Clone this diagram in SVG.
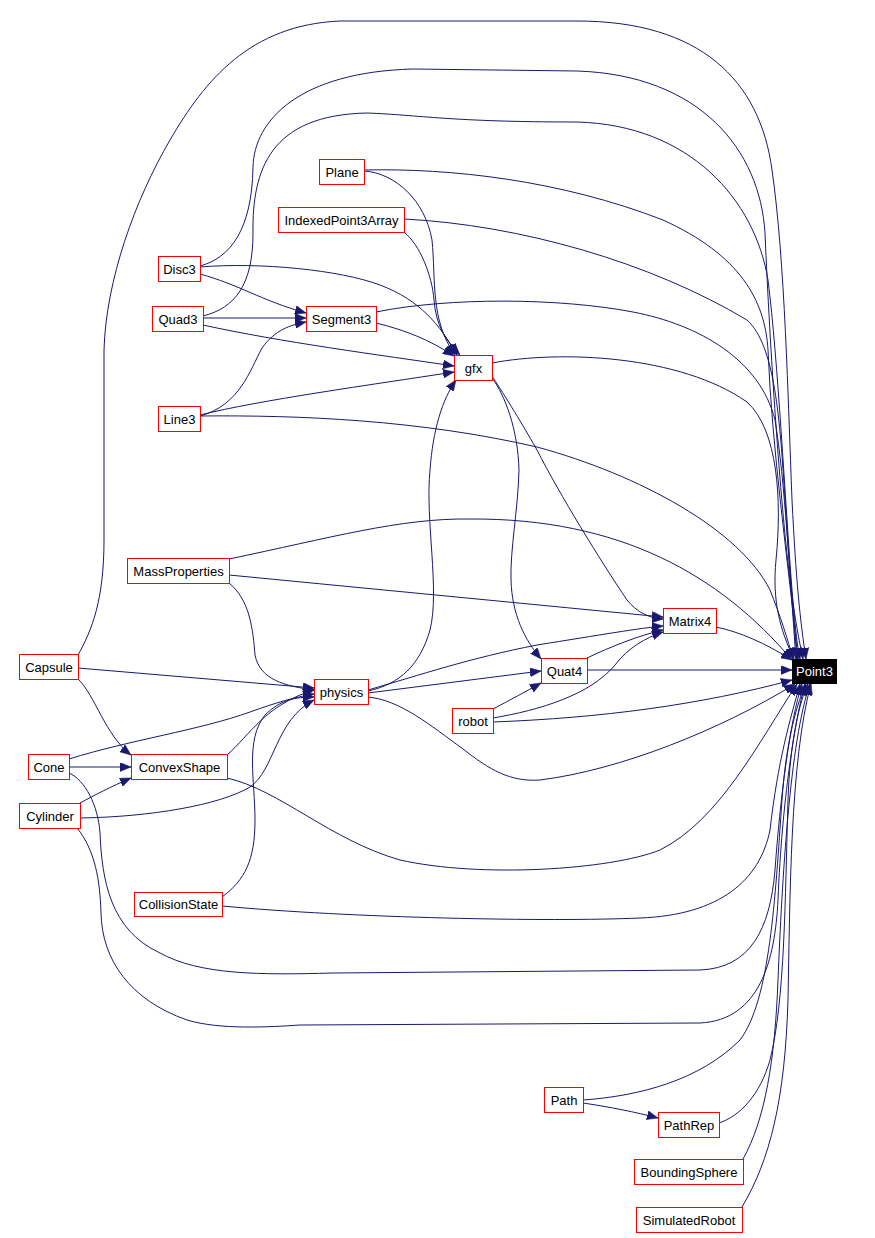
<svg xmlns="http://www.w3.org/2000/svg" width="875" height="1238" viewBox="0 0 875 1238">
<style>
.e{fill:none;stroke:#191970;stroke-width:1;marker-end:url(#ah)}
.n rect{fill:#ffffff;stroke:#ff0000;stroke-width:1}
.n text{font-family:"Liberation Sans",Arial,sans-serif;font-size:13px;fill:#000000;text-anchor:middle}
#n_Point3 rect{fill:#000000;stroke:#000000}
#n_Point3 text{fill:#ffffff}
</style>
<defs>
<marker id="ah" viewBox="0 0 11 9" refX="11" refY="4.5" markerUnits="userSpaceOnUse" markerWidth="11" markerHeight="9" orient="auto">
<path d="M0,0 L11,4.5 L0,9 z" fill="#191970" stroke="#191970" stroke-width="0.5"/>
</marker>
</defs>
<rect width="875" height="1238" fill="#ffffff"/>
<g id="edges">
<path class="e" d="M78,655 C92,630 104,600 104,540 L104,350 C106,280 135,200 170,140 C205,80 250,25 340,21 L577,21 C700,21 760,80 772,170 C785,260 788,400 792,500 C796,580 800,620 806,659"/>
<path class="e" d="M200,266 C230,258 252,230 253,167 C254,120 300,72 413,69 L577,71 C700,75 760,150 765,233 C770,350 780,500 790,580 C795,620 799,640 803,659"/>
<path class="e" d="M203,316 C235,308 253,285 253,233 C252,170 270,115 367,113 C420,115 450,122 577,122 C690,125 755,200 768,280 C778,360 785,500 792,590 C795,625 797,645 800,659"/>
<path class="e" d="M364,170 C450,168 560,180 663,220 C740,255 765,300 768,350 C772,450 788,560 798,659"/>
<path class="e" d="M404,219 C520,225 650,262 747,320 C775,345 780,420 785,500 C790,580 794,620 797,659"/>
<path class="e" d="M376,312 C450,297 560,298 633,312 C700,325 760,360 775,420 C785,480 790,580 796,659"/>
<path class="e" d="M492,363 C560,350 680,355 747,402 C778,430 782,500 776,560 C772,600 780,630 794,659"/>
<path class="e" d="M200,416 C300,415 420,420 537,447 C640,475 740,530 770,590 C780,615 788,640 793,659"/>
<path class="e" d="M229,559 C330,538 400,518 470,519 C620,518 720,575 792,660"/>
<path class="e" d="M716,627 C740,632 765,643 792,660"/>
<path class="e" d="M587,670 L792,670"/>
<path class="e" d="M493,722 C600,718 700,705 792,680"/>
<path class="e" d="M368,697 C400,700 430,725 463,749 C490,770 510,782 540,780 C620,770 720,730 795,684"/>
<path class="e" d="M227,778 C280,790 330,840 400,860 C480,878 610,870 660,850 C720,820 760,740 797,684"/>
<path class="e" d="M222,906 C350,918 550,922 640,918 C720,915 760,880 770,830 C778,760 790,720 800,684"/>
<path class="e" d="M69,773 C85,780 98,805 100,833 C102,880 110,930 160,953 C200,975 260,975 333,973 L700,970 C750,968 770,930 775,870 C780,800 790,720 802,684"/>
<path class="e" d="M77,828 C95,850 100,880 101,913 C102,960 130,1000 187,1020 C220,1030 270,1027 300,1025 L700,1023 C760,1020 775,960 778,900 C782,800 795,720 805,684"/>
<path class="e" d="M583,1100 C640,1096 700,1080 740,1040 C770,1000 775,900 782,800 C786,740 798,700 806,684"/>
<path class="e" d="M719,1123 C740,1116 760,1095 770,1060 C785,1000 785,900 788,800 C790,740 800,700 808,684"/>
<path class="e" d="M743,1159 C765,1120 775,1060 778,980 C782,880 790,740 810,684"/>
<path class="e" d="M742,1207 C770,1160 785,1100 788,1000 C790,900 790,760 811,684"/>
<path class="e" d="M583,1103 C610,1107 635,1112 658,1118"/>
<path class="e" d="M587,658 C610,647 640,635 663,630"/>
<path class="e" d="M492,376 C500,388 520,420 537,450 C560,495 600,560 627,600 C637,612 648,618 663,619"/>
<path class="e" d="M229,575 L663,617"/>
<path class="e" d="M368,690 C420,675 470,658 537,645 C600,635 640,628 663,626"/>
<path class="e" d="M493,718 C540,710 590,695 615,665 C628,648 645,638 663,632"/>
<path class="e" d="M492,378 C505,395 518,430 519,470 C518,510 510,550 511,580 C512,615 525,640 541,659"/>
<path class="e" d="M493,709 C510,700 525,692 541,683"/>
<path class="e" d="M368,693 L541,671"/>
<path class="e" d="M368,691 C400,684 420,665 430,630 C440,590 425,520 430,470 C433,430 442,400 456,380"/>
<path class="e" d="M364,171 C395,173 425,200 432,240 C436,280 430,320 455,355"/>
<path class="e" d="M404,232 C420,245 432,275 434,300 C436,325 445,340 460,355"/>
<path class="e" d="M200,267 C260,262 340,270 380,285 C420,300 440,325 457,355"/>
<path class="e" d="M376,323 C405,330 430,340 454,356"/>
<path class="e" d="M203,325 C280,342 380,355 454,366"/>
<path class="e" d="M200,415 C260,400 370,385 454,372"/>
<path class="e" d="M200,274 C240,285 260,300 306,313"/>
<path class="e" d="M203,318 L306,318"/>
<path class="e" d="M200,416 C240,405 250,370 262,348 C275,330 290,325 306,322"/>
<path class="e" d="M78,668 L314,688"/>
<path class="e" d="M78,679 C95,695 105,735 131,755"/>
<path class="e" d="M69,767 L131,767"/>
<path class="e" d="M69,759 C130,740 200,730 250,712 C275,703 295,697 314,694"/>
<path class="e" d="M80,803 C95,795 110,787 131,778"/>
<path class="e" d="M80,818 C150,817 220,805 250,787 C275,770 275,720 314,700"/>
<path class="e" d="M227,755 C250,735 265,705 314,690"/>
<path class="e" d="M222,897 C245,880 255,860 255,820 C255,780 245,740 265,715 C280,700 295,697 314,697"/>
<path class="e" d="M229,583 C250,600 253,630 255,655 C260,680 285,686 314,690"/>
</g>
<g id="n_Plane" class="n"><rect x="319.5" y="159.5" width="45" height="25"/><text x="342" y="177">Plane</text></g>
<g id="n_IndexedPoint3Array" class="n"><rect x="278.5" y="207.5" width="126" height="25"/><text x="341.5" y="225">IndexedPoint3Array</text></g>
<g id="n_Disc3" class="n"><rect x="158.5" y="256.5" width="42" height="25"/><text x="179.5" y="274">Disc3</text></g>
<g id="n_Quad3" class="n"><rect x="152.5" y="306.5" width="51" height="25"/><text x="178" y="324">Quad3</text></g>
<g id="n_Segment3" class="n"><rect x="306.5" y="306.5" width="70" height="25"/><text x="341.5" y="324">Segment3</text></g>
<g id="n_gfx" class="n"><rect x="454.5" y="355.5" width="38" height="25"/><text x="473.5" y="373">gfx</text></g>
<g id="n_Line3" class="n"><rect x="158.5" y="406.5" width="42" height="25"/><text x="179.5" y="424">Line3</text></g>
<g id="n_MassProperties" class="n"><rect x="127.5" y="558.5" width="102" height="25"/><text x="178.5" y="576">MassProperties</text></g>
<g id="n_Matrix4" class="n"><rect x="663.5" y="608.5" width="53" height="25"/><text x="690" y="626">Matrix4</text></g>
<g id="n_Capsule" class="n"><rect x="19.5" y="654.5" width="59" height="25"/><text x="49" y="672">Capsule</text></g>
<g id="n_Quat4" class="n"><rect x="541.5" y="658.5" width="46" height="25"/><text x="564.5" y="676">Quat4</text></g>
<g id="n_Point3" class="n"><rect x="792.5" y="659.5" width="44" height="24"/><text x="814.5" y="676">Point3</text></g>
<g id="n_physics" class="n"><rect x="314.5" y="679.5" width="54" height="25"/><text x="341.5" y="697">physics</text></g>
<g id="n_robot" class="n"><rect x="452.5" y="708.5" width="41" height="25"/><text x="473" y="726">robot</text></g>
<g id="n_Cone" class="n"><rect x="28.5" y="754.5" width="41" height="25"/><text x="49" y="772">Cone</text></g>
<g id="n_ConvexShape" class="n"><rect x="131.5" y="754.5" width="96" height="25"/><text x="179.5" y="772">ConvexShape</text></g>
<g id="n_Cylinder" class="n"><rect x="19.5" y="803.5" width="61" height="25"/><text x="50" y="821">Cylinder</text></g>
<g id="n_CollisionState" class="n"><rect x="134.5" y="892.5" width="88" height="24"/><text x="178.5" y="909">CollisionState</text></g>
<g id="n_Path" class="n"><rect x="544.5" y="1087.5" width="39" height="25"/><text x="564" y="1105">Path</text></g>
<g id="n_PathRep" class="n"><rect x="658.5" y="1112.5" width="61" height="25"/><text x="689" y="1130">PathRep</text></g>
<g id="n_BoundingSphere" class="n"><rect x="634.5" y="1159.5" width="109" height="25"/><text x="689" y="1177">BoundingSphere</text></g>
<g id="n_SimulatedRobot" class="n"><rect x="636.5" y="1207.5" width="106" height="25"/><text x="689" y="1225">SimulatedRobot</text></g>
</svg>
